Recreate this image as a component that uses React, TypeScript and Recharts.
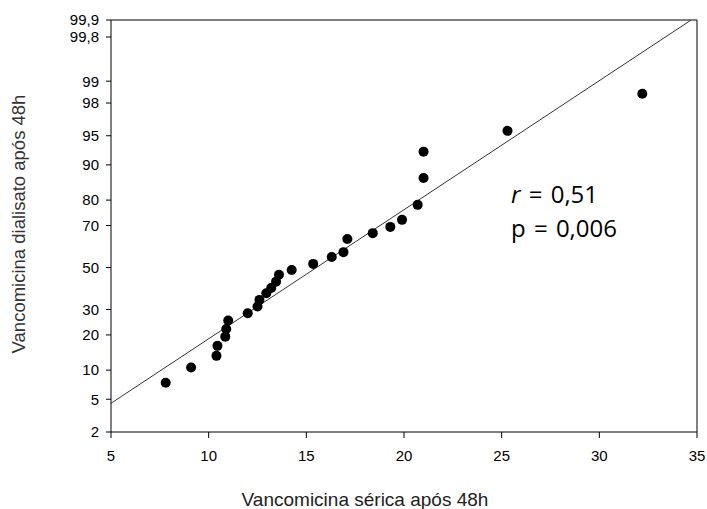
import React from "react";
import { ComposedChart, Scatter, Line, XAxis, YAxis, ReferenceLine } from "recharts";

// Vancomicina sérica (x) vs dialisato (% em escala de probabilidade)
const serica = [
  7.8, 9.1, 10.4, 10.45, 10.85, 10.9, 11.0, 12.0, 12.5, 12.6, 12.95, 13.2, 13.45, 13.6,
  14.25, 15.35, 16.3, 16.9, 17.1, 18.4, 19.3, 19.9, 20.7, 21.0, 21.0, 25.3, 32.2,
];
const dialisato = [
  7.5, 10.6, 13.5, 16.4, 19.4, 22.1, 25.4, 28.4, 31.3, 34.3, 37.4, 39.9, 43.0, 46.4,
  48.8, 51.8, 55.2, 57.6, 63.9, 66.6, 69.4, 72.4, 78.3, 86.8, 92.6, 95.6, 98.5,
];

// reta de ajuste
const fitX = [5, 34.7];
const fitP = [4.5, 99.9];

const xTicks = [5, 10, 15, 20, 25, 30, 35];
const probTicks = [2, 5, 10, 20, 30, 50, 70, 80, 90, 95, 98, 99, 99.8, 99.9];
const probLabels = ["2", "5", "10", "20", "30", "50", "70", "80", "90", "95", "98", "99", "99,8", "99,9"];

// inversa da normal (Acklam)
function probit(p: number): number {
  const a = [-39.69683028665376, 220.9460984245205, -275.9285104469687, 138.357751867269, -30.66479806614716, 2.506628277459239];
  const b = [-54.47609879822406, 161.5858368580409, -155.6989798598866, 66.80131188771972, -13.28068155288572];
  const c = [-0.007784894002430293, -0.3223964580411365, -2.400758277161838, -2.549732539343734, 4.374664141464968, 2.938163982698783];
  const d = [0.007784695709041462, 0.3224671290700398, 2.445134137142996, 3.754408661907416];
  const pl = 0.02425;
  if (p < pl) {
    const q = Math.sqrt(-2 * Math.log(p));
    return (((((c[0] * q + c[1]) * q + c[2]) * q + c[3]) * q + c[4]) * q + c[5]) / ((((d[0] * q + d[1]) * q + d[2]) * q + d[3]) * q + 1);
  }
  if (p > 1 - pl) {
    const q = Math.sqrt(-2 * Math.log(1 - p));
    return -(((((c[0] * q + c[1]) * q + c[2]) * q + c[3]) * q + c[4]) * q + c[5]) / ((((d[0] * q + d[1]) * q + d[2]) * q + d[3]) * q + 1);
  }
  const q = p - 0.5;
  const r = q * q;
  return ((((((a[0] * r + a[1]) * r + a[2]) * r + a[3]) * r + a[4]) * r + a[5]) * q) /
    (((((b[0] * r + b[1]) * r + b[2]) * r + b[3]) * r + b[4]) * r + 1);
}

const zTicks = probTicks.map((p) => probit(p / 100));
const zMin = zTicks[0];
const zMax = zTicks[zTicks.length - 1];

const points = serica.map((x, i) => ({ x, z: probit(dialisato[i] / 100) }));
const fitLine = fitX.map((x, i) => ({ x, z: probit(fitP[i] / 100) }));

const fmtZ = (v: number) => {
  let best = 0;
  zTicks.forEach((t, i) => {
    if (Math.abs(t - v) < Math.abs(zTicks[best] - v)) best = i;
  });
  return probLabels[best];
};

const tickFont = { fontFamily: "Liberation Sans, Arial, sans-serif", fontSize: 15, fill: "#000" };

export default function App() {
  return (
    <div style={{ position: "absolute", left: 0, top: 0, width: 707, height: 509, background: "#fff" }}>
      <ComposedChart width={707} height={509} margin={{ top: 20, right: 10, bottom: 0, left: 0 }}>
        <XAxis
          type="number"
          dataKey="x"
          domain={[5, 35]}
          ticks={xTicks}
          allowDataOverflow
          height={77}
          tickSize={6}
          tickMargin={12}
          tick={tickFont}
          axisLine={{ stroke: "#000" }}
          tickLine={{ stroke: "#000" }}
        />
        <YAxis
          type="number"
          dataKey="z"
          domain={[zMin, zMax]}
          ticks={zTicks}
          allowDataOverflow
          interval={0}
          width={111}
          tickSize={5}
          tickMargin={7}
          tick={tickFont}
          tickFormatter={fmtZ}
          axisLine={{ stroke: "#000" }}
          tickLine={{ stroke: "#000" }}
        />
        <ReferenceLine x={35} stroke="#000" />
        <ReferenceLine y={zMax} stroke="#000" />
        <Line
          data={fitLine}
          dataKey="z"
          type="linear"
          stroke="#333"
          strokeWidth={1}
          dot={false}
          activeDot={false}
          isAnimationActive={false}
        />
        <Scatter
          data={points}
          dataKey="z"
          fill="#000"
          isAnimationActive={false}
          shape={(p: any) => <circle cx={p.cx} cy={p.cy} r={5} fill="#000" />}
        />
      </ComposedChart>
      <svg width={707} height={509} style={{ position: "absolute", left: 0, top: 0, pointerEvents: "none" }}>
        <text x={365} y={506} textAnchor="middle" fontFamily="Liberation Sans, Arial, sans-serif" fontSize={19} fill="#222">
          Vancomicina sérica após 48h
        </text>
        <text transform="translate(25,224) rotate(-90)" textAnchor="middle" fontFamily="Liberation Sans, Arial, sans-serif" fontSize={18.5} fill="#333">
          Vancomicina dialisato após 48h
        </text>
        <text x={511} y={203} fontFamily="Open Sans, sans-serif" fontSize={24} wordSpacing={2} fill="#000">
          <tspan fontStyle="italic">r</tspan> = 0,51
        </text>
        <text x={511} y={237} fontFamily="Open Sans, sans-serif" fontSize={24} wordSpacing={2} fill="#000">
          p = 0,006
        </text>
      </svg>
    </div>
  );
}
